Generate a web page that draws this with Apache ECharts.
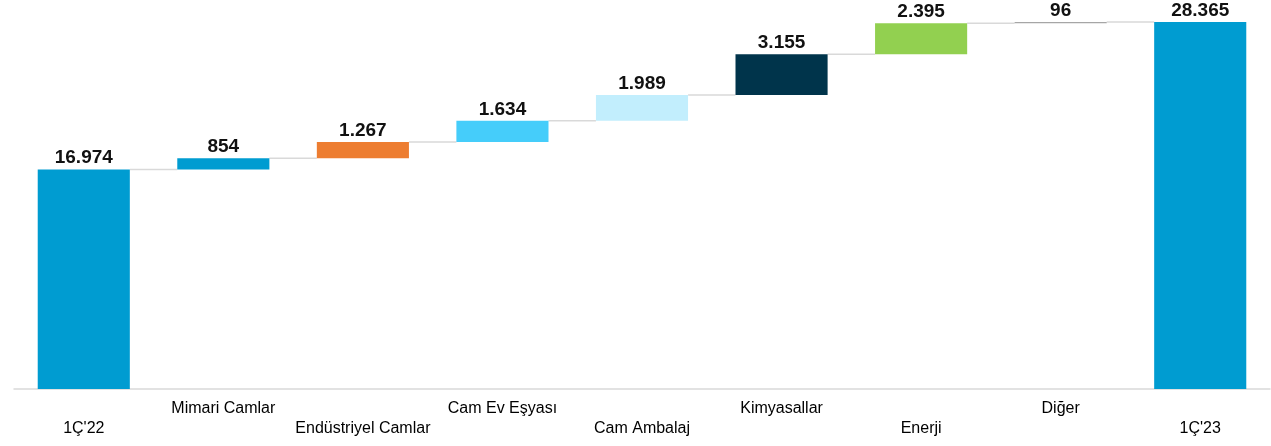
<!DOCTYPE html>
<html>
<head>
<meta charset="utf-8">
<script src="https://cdn.jsdelivr.net/npm/echarts@6/dist/echarts.min.js"></script>
<style>html,body{margin:0;padding:0;background:#fff}#c{width:1271px;height:446px}</style>
</head>
<body>
<div id="c"></div>
<script>
const categories = ["1Ç'22", "Mimari Camlar", "Endüstriyel Camlar", "Cam Ev Eşyası", "Cam Ambalaj", "Kimyasallar", "Enerji", "Diğer", "1Ç'23"];
const values = [16974, 854, 1267, 1634, 1989, 3155, 2395, 96, 28365];
const isTotal = [true, false, false, false, false, false, false, false, true];
const valueLabels = ["16.974", "854", "1.267", "1.634", "1.989", "3.155", "2.395", "96", "28.365"];
const colors = ["#009CD1", "#009CD1", "#ED7D31", "#45CDFA", "#C2EEFD", "#00344B", "#92D050", "#A6A6A6", "#009CD1"];

// build stacked base and cumulative levels
const base = [];
const levels = [];
let run = 0;
values.forEach((v, i) => {
  if (isTotal[i]) { base.push(0); run = v; }
  else { base.push(run); run += v; }
  levels.push(run);
});
const connectors = [];
for (let i = 0; i < categories.length - 1; i++) connectors.push([i, levels[i]]);

const chart = echarts.init(document.getElementById('c'), null, {renderer: 'canvas'});
chart.setOption({
  animation: false,
  grid: {left: 14, right: 1, top: 22, bottom: 57, containLabel: false},
  xAxis: {
    type: 'category',
    data: categories,
    axisLine: {show: true, lineStyle: {color: '#D9D9D9', width: 1.5}},
    axisTick: {show: false},
    axisLabel: {
      interval: 0,
      margin: 10,
      fontFamily: 'Liberation Sans, Arial, sans-serif',
      fontSize: 16,
      lineHeight: 20,
      color: '#000',
      formatter: (v, i) => (i % 2 === 0 ? '\n' + v : v)
    }
  },
  yAxis: {type: 'value', min: 0, max: 28365, show: false, splitLine: {show: false}},
  series: [
    {
      type: 'bar', stack: 'w', barWidth: '66%',
      itemStyle: {color: 'transparent'},
      data: base, silent: true
    },
    {
      type: 'bar', stack: 'w', barWidth: '66%',
      data: values.map((v, i) => ({value: v, itemStyle: {color: colors[i]}})),
      label: {
        show: true, position: 'top', distance: 2,
        fontFamily: 'Liberation Sans, Arial, sans-serif',
        fontWeight: 'bold', fontSize: 19, color: '#111',
        formatter: p => valueLabels[p.dataIndex]
      }
    },
    {
      type: 'custom',
      data: connectors,
      z: 1,
      renderItem: function (params, api) {
        const i = api.value(0);
        const v = api.value(1);
        const p1 = api.coord([i, v]);
        const p2 = api.coord([i + 1, v]);
        const half = api.size([1, 0])[0] * 0.66 / 2;
        return {
          type: 'line',
          shape: {x1: p1[0] + half, y1: p1[1], x2: p2[0] - half, y2: p2[1]},
          style: {stroke: '#D9D9D9', lineWidth: 1.5}
        };
      }
    }
  ]
});
</script>
</body>
</html>
